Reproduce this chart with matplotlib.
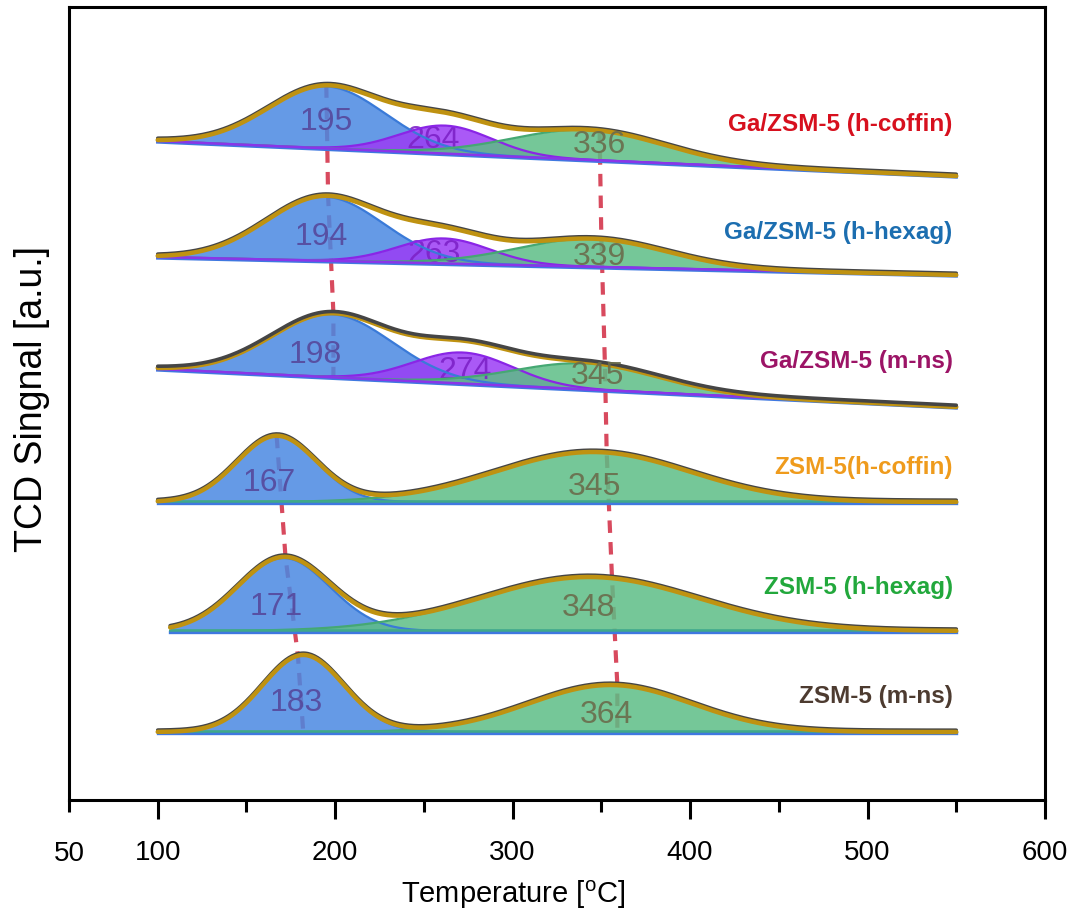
import numpy as np
import matplotlib
matplotlib.use("Agg")
import matplotlib.pyplot as plt

plt.rcParams['font.family'] = ['Liberation Sans', 'DejaVu Sans']
plt.rcParams['mathtext.fontset'] = 'custom'
plt.rcParams['mathtext.rm'] = 'Liberation Sans'

# ---------------- data ----------------
samples = ["Ga/ZSM-5 (h-coffin)", "Ga/ZSM-5 (h-hexag)", "Ga/ZSM-5 (m-ns)",
           "ZSM-5(h-coffin)", "ZSM-5 (h-hexag)", "ZSM-5 (m-ns)"]
sample_colors = ["#d7101e", "#1c6eb0", "#9c1466", "#ef9b1c", "#22a83c", "#4d3b30"]

t_start = [100, 100, 100, 100, 107, 100]
t_end = 550
base_left = [658, 542, 430, 297, 168, 67]     # stacked signal (offset) at t_start
base_right = [623, 524, 392, 297, 168, 67]    # stacked signal (offset) at t_end

low_center = [195, 194, 198, 167, 171, 182]
low_height = [62, 64, 63, 66, 73, 77]
low_width = [33, 33, 34, 22.5, 26, 23]

mid_center = [262, 261, 272, None, None, None]
mid_height = [28, 25, 31, None, None, None]
mid_width = [26, 26, 28, None, None, None]

high_center = [343, 345, 342, 345, 343, 355]
high_height = [30, 28, 26, 50, 54, 47]
high_width = [43, 42, 41, 55, 62, 46]

low_labels = ["195", "194", "198", "167", "171", "183"]
mid_labels = ["264", "263", "274", None, None, None]
high_labels = ["336", "339", "345", "345", "348", "364"]

guide_left_upper = [195, 196, 199]
guide_left_lower = [167, 172, 179, 182]
guide_right = [349, 350, 352, 353, 356, 359]

# ---------------- layout ----------------
low_label_pos = [(195, 678), (192, 563), (189, 445), (163, 317), (167, 193), (178, 97)]
mid_label_pos = [(255, 660), (256, 546), (273, 429)]
high_label_pos = [(349, 655), (349, 543), (348, 424), (346, 313), (343, 192), (353, 85)]
name_y = [675, 567, 438, 332, 212, 103]

C_BLUE = "#4a88e2"
C_BLUE_EDGE = "#3a7ad8"
C_PURPLE = "#9b3cf5"
C_PURPLE_EDGE = "#8a25e6"
C_GREEN = "#5dbd86"
C_GREEN_EDGE = "#45a873"
C_GOLD = "#bf9211"
C_DARK = "#454545"
C_RED = "#d84a5e"


def gauss(t, c, h, w):
    return h * np.exp(-0.5 * ((t - c) / w) ** 2)


fig = plt.figure(figsize=(10.72, 9.12), dpi=100)
ax = fig.add_axes([69 / 1072, 1 - 801 / 912, 976 / 1072, 793 / 912])
ax.set_xlim(50, 600)
ax.set_ylim(-1, 792)

curves = []
for i in range(len(samples)):
    t = np.linspace(t_start[i], t_end, 500)
    base = base_left[i] + (base_right[i] - base_left[i]) * (t - 100) / (t_end - 100)
    comps = [("low", gauss(t, low_center[i], low_height[i], low_width[i]))]
    if mid_center[i] is not None:
        comps.append(("mid", gauss(t, mid_center[i], mid_height[i], mid_width[i])))
    comps.append(("high", gauss(t, high_center[i], high_height[i], high_width[i])))
    env = base + sum(c for _, c in comps)
    curves.append((t, base, comps, env))


def env_at(i, T):
    t, base, comps, env = curves[i]
    return np.interp(T, t, env)


def base_at(i, T):
    t, base, comps, env = curves[i]
    return np.interp(T, t, base)


# guide lines (drawn below the fills)
dash = (0, (3, 2.2))
gx = list(guide_left_upper) + [guide_left_upper[-1]]
gy = [env_at(i, guide_left_upper[i]) for i in range(3)] + [base_at(2, guide_left_upper[-1])]
ax.plot(gx, gy, color=C_RED, lw=3, ls=dash, zorder=1)

gx = list(guide_left_lower[:3]) + [guide_left_lower[3]]
gy = [env_at(3 + k, guide_left_lower[k]) for k in range(3)] + [base_at(5, guide_left_lower[3])]
ax.plot(gx, gy, color=C_RED, lw=3, ls=dash, zorder=1)

gx = list(guide_right) + [guide_right[-1]]
gy = [env_at(i, guide_right[i]) for i in range(6)] + [base_at(5, guide_right[-1])]
ax.plot(gx, gy, color=C_RED, lw=3, ls=dash, zorder=1)

for i, (t, base, comps, env) in enumerate(curves):
    for kind, c in comps:
        if kind == "low":
            fc, ec = C_BLUE, C_BLUE_EDGE
        elif kind == "mid":
            fc, ec = C_PURPLE, C_PURPLE_EDGE
        else:
            fc, ec = C_GREEN, C_GREEN_EDGE
        ax.fill_between(t, base, base + c, color=fc, alpha=0.85, lw=0, zorder=2)
        ax.plot(t, base + c, color=ec, lw=1.6, zorder=3)
    ax.plot(t, base - 1.0, color="#3f78e0", lw=2.4, zorder=3)
    if mid_center[i] is not None:
        ax.plot(t, base, color="#8a35e8", lw=1.8, zorder=3)
    else:
        ax.plot(t, base + 0.8, color="#3fa98a", lw=1.8, zorder=3)

    dark_z, gold_z = (5, 4) if i == 2 else (4, 5)
    ax.plot(t, env + 1.8, color=C_DARK, lw=2.6, zorder=dark_z, solid_capstyle="round")
    ax.plot(t, env, color=C_GOLD, lw=3.2, zorder=gold_z, solid_capstyle="round")

    ax.text(low_label_pos[i][0], low_label_pos[i][1], low_labels[i], fontsize=23,
            color="#56489c", ha="center", va="center", zorder=6, alpha=0.9)
    if mid_labels[i] is not None:
        ax.text(mid_label_pos[i][0], mid_label_pos[i][1], mid_labels[i], fontsize=23,
                color="#7d22c8", ha="center", va="center", zorder=2.5, alpha=0.9)
    ax.text(high_label_pos[i][0], high_label_pos[i][1], high_labels[i], fontsize=23,
            color="#6a6c4c", ha="center", va="center", zorder=6, alpha=0.9)

    ax.text(548, name_y[i], samples[i], fontsize=17.5, fontweight="bold",
            color=sample_colors[i], ha="right", va="center", zorder=7)

# axes styling
for s in ax.spines.values():
    s.set_linewidth(2.2)
ax.set_yticks([])
ax.set_xticks([100, 200, 300, 400, 500, 600])
ax.set_xticks([50, 150, 250, 350, 450, 550], minor=True)
ax.set_xticklabels(["100", "200", "300", "400", "500", "600"], fontsize=20)
ax.set_xticklabels(["50", "", "", "", "", ""], minor=True, fontsize=20)
ax.tick_params(axis="x", which="major", length=14, width=2.2, pad=14, direction="out")
ax.tick_params(axis="x", which="minor", length=8.5, width=2.2, pad=20, direction="out")

fig.text(513 / 1072, 1 - 895 / 912, r"Temperature [$\mathregular{^{o}}$C]", fontsize=21,
         ha="center", va="center")
fig.text(32 / 1072, 1 - 399 / 912, "TCD Singnal [a.u.]", fontsize=27, rotation=90,
         ha="center", va="center")

fig.savefig("out.png", dpi=100)
